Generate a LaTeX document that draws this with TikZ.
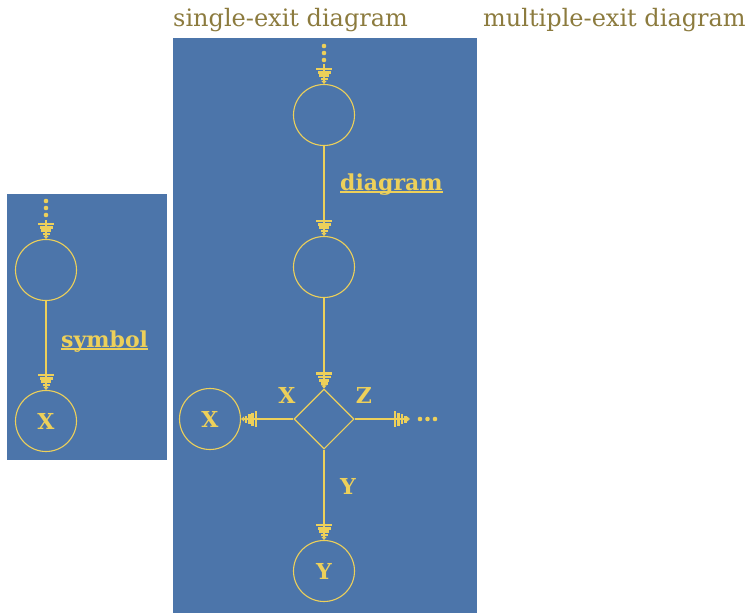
\documentclass[tikz,border=0pt]{standalone}
\usepackage{fontspec}
\setmainfont{DejaVu Serif}
\usetikzlibrary{arrows.meta,shapes.geometric,positioning}

\definecolor{panelblue}{HTML}{4C75AA}
\definecolor{flowyellow}{HTML}{EDD05A}
\definecolor{titleolive}{HTML}{8C7B3E}

% underlined label, rule through the descenders
\newcommand{\flowul}[1]{\setbox0\hbox{#1}\rlap{\rule[-2.5pt]{\wd0}{1.3pt}}\box0}

\tikzset{
  firtip/.tip={Rectangle[length=2.6pt,width=16pt,sep=0.8pt]
               Rectangle[length=2.6pt,width=13pt,sep=0.8pt]
               Rectangle[length=2.6pt,width=10pt,sep=0.8pt]
               Rectangle[length=2.6pt,width=7pt,sep=0.5pt]
               Triangle[length=3pt,width=5pt]},
  panel/.style={fill=panelblue, draw=none},
  title/.style={anchor=base west, text=titleolive, font=\fontsize{24}{28}\selectfont, inner sep=0pt},
  state/.style={circle, draw=flowyellow, line width=1.1pt, minimum size=61pt, inner sep=0pt,
                text=flowyellow, font=\fontsize{22}{26}\selectfont\bfseries},
  choice/.style={diamond, draw=flowyellow, line width=1.1pt, minimum size=60pt, inner sep=0pt},
  flow/.style={draw=flowyellow, line width=1.1pt, -firtip},
  lbl/.style={text=flowyellow, font=\fontsize{22}{26}\selectfont\bfseries, inner sep=0pt},
}

\begin{document}
\begin{tikzpicture}[x=1pt,y=-1pt]
\useasboundingbox (0,0) rectangle (749,613);

% Paineis
\fill[panel] (7,194) rectangle (167,460);
\fill[panel] (173,38) rectangle (477,613);

% Titulos
\node[title] (tsingle) at (173,27) {single-exit diagram};
\node[title] (tmulti) at (483,27) {multiple-exit diagram};

% Reticencias
\foreach \y in {201,208,215} {
    \fill[flowyellow] (46,\y) circle (2.3pt);
}
\foreach \y in {46,53,60} {
    \fill[flowyellow] (324,\y) circle (2.3pt);
}
\foreach \x in {420,427.5,435} {
    \fill[flowyellow] (\x,419) circle (2.3pt);
}

% Simbolo
\coordinate (sin) at (46,220);
\node[state] (sa) at (46,270) {};
\node[state] (sx) at (46,421) {X};
\node[lbl, anchor=base west] (slab) at (61,347) {\flowul{symbol}};
\draw[flow] (sin) -- (sa);
\draw[flow] (sa) -- (sx);

% Diagrama
\coordinate (din) at (324,64);
\node[state] (da) at (324,115) {};
\node[state] (db) at (324,267) {};
\node[choice] (dc) at (324,419) {};
\node[state] (dx) at (210,419) {X};
\node[state] (dy) at (324,571) {Y};
\coordinate (dz) at (410,419);
\node[lbl, anchor=base west] (dlab) at (340,190) {\flowul{diagram}};
\draw[flow] (din) -- (da);
\draw[flow] (da) -- (db);
\draw[flow] (db) -- (dc);
\draw[flow] (dc) -- (dx);
\draw[flow] (dc) -- (dy);
\draw[flow] (dc) -- (dz);

% Rotulos das saidas
\node[lbl] (lx) at (287,395) {X};
\node[lbl] (lz) at (364,395) {Z};
\node[lbl] (ly) at (348,486) {Y};
\end{tikzpicture}
\end{document}
